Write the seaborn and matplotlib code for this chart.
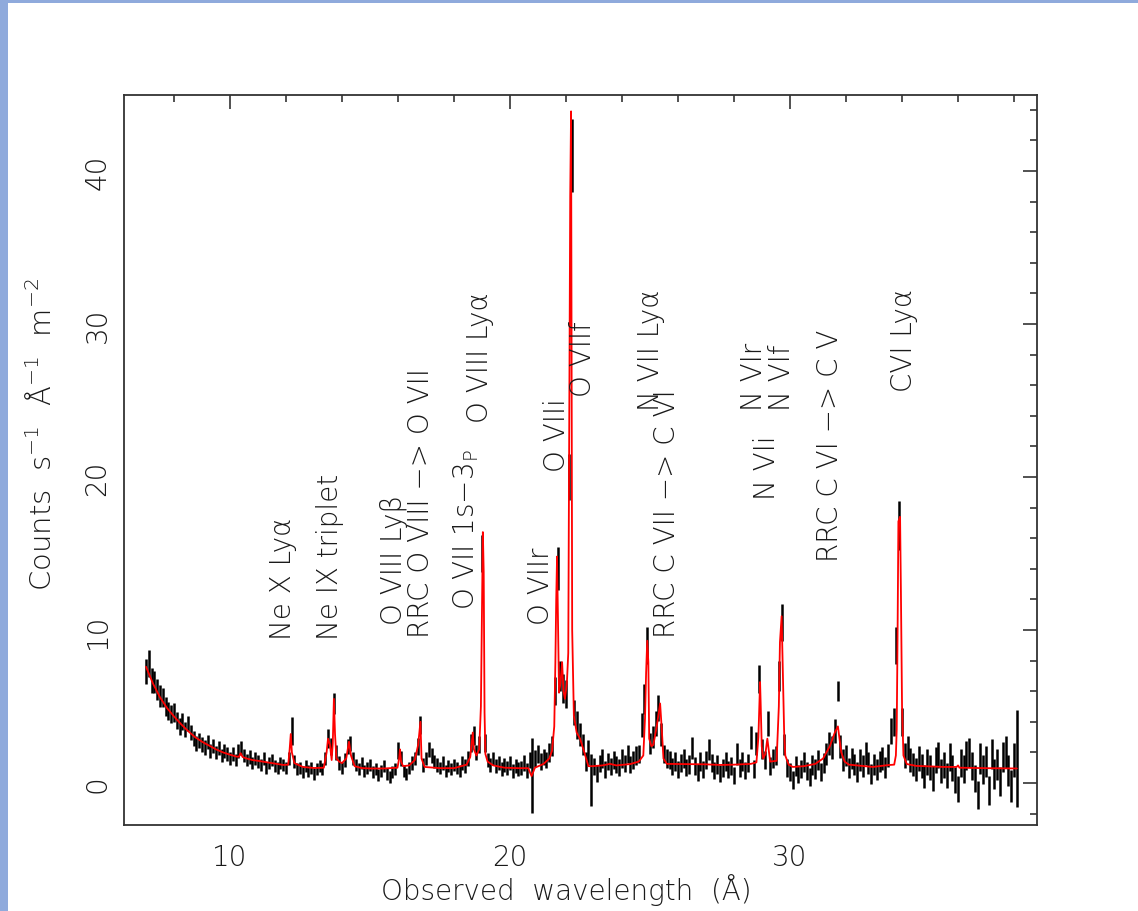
import numpy as np
import matplotlib
matplotlib.use("Agg")
import matplotlib.pyplot as plt
from matplotlib.patches import Rectangle
from matplotlib.ticker import MultipleLocator
import seaborn as sns

# ---------------- data ----------------
# observed spectrum, bins of 0.1 A starting at 7.0 A
flux = [
    7.3, 7.8, 6.7, 6.6, 6.1, 5.7, 5.6, 5.0, 4.7, 4.5,      # 7.x
    4.6, 4.1, 3.7, 4.0, 3.5, 3.9, 3.3, 2.9, 2.6, 2.8,      # 8.x
    2.5, 2.3, 2.7, 2.1, 2.4, 2.0, 2.3, 1.8, 2.1, 1.9,      # 9.x
    1.6, 1.9, 1.5, 2.1, 2.3, 1.8, 1.5, 1.7, 1.3, 1.6,      # 10.x
    1.4, 1.2, 1.6, 1.0, 1.3, 1.5, 1.1, 1.0, 1.3, 1.2,      # 11.x
    1.0, 1.6, 3.4, 1.4, 0.9, 1.0, 0.7, 1.1, 0.8, 1.0,      # 12.x
    0.6, 0.9, 1.1, 0.9, 1.6, 2.9, 2.4, 5.2, 2.0, 1.3,      # 13.x
    1.0, 1.5, 2.4, 2.6, 1.6, 1.2, 0.9, 1.3, 0.8, 1.0,      # 14.x
    1.2, 0.7, 0.9, 0.5, 0.8, 1.1, 0.6, 0.4, 0.7, 0.9,      # 15.x
    2.1, 1.6, 0.8, 0.6, 1.0, 1.3, 1.6, 2.4, 3.8, 1.2,      # 16.x
    1.6, 2.2, 1.8, 1.4, 1.2, 1.0, 1.3, 0.8, 1.1, 0.9,      # 17.x
    1.2, 1.0, 0.8, 1.3, 1.1, 1.6, 2.6, 3.1, 2.0, 2.5,      # 18.x
    15.0, 2.6, 1.5, 1.2, 1.6, 1.1, 1.3, 0.9, 1.2, 1.0,     # 19.x
    1.3, 0.8, 1.1, 0.9, 1.0, 1.3, 0.8, 1.5, 0.5, 1.6,      # 20.x
    1.9, 1.4, 1.7, 1.5, 2.0, 2.4, 6.0, 14.0, 7.0, 6.2,     # 21.x
    5.8, 20.0, 41.0, 4.6, 3.8, 3.2, 2.5, 1.4, 2.0, 0.2,    # 22.x
    1.1, 0.6, 1.3, 1.6, 0.9, 1.4, 1.1, 1.5, 1.2, 1.0,      # 23.x
    1.6, 1.3, 1.9, 1.2, 1.5, 1.8, 1.9, 3.8, 5.5, 9.0,      # 24.x
    2.6, 3.0, 3.9, 4.9, 3.2, 1.9, 1.6, 1.5, 1.1, 1.4,      # 25.x
    0.9, 1.3, 1.6, 1.0, 1.2, 2.3, 1.1, 0.7, 1.4, 0.9,      # 26.x
    1.5, 2.2, 1.3, 0.8, 1.2, 0.6, 1.0, 1.4, 0.9, 1.1,      # 27.x
    0.5, 1.9, 1.0, 1.4, 0.8, 1.3, 3.0, 0.9, 2.6, 6.8,      # 28.x
    2.2, 1.5, 3.9, 1.1, 1.6, 1.8, 7.0, 10.5, 2.5, 1.0,     # 29.x
    0.7, 0.2, 1.1, 0.6, 0.9, 1.4, 0.8, 0.4, 1.2, 0.9,      # 30.x
    1.5, 0.7, 1.3, 1.9, 2.6, 2.3, 3.4, 6.0, 2.4, 1.5,      # 31.x
    1.8, 1.0, 1.6, 1.2, 0.7, 1.5, 1.1, 1.9, 1.3, 0.6,      # 32.x
    1.2, 0.9, 1.4, 1.6, 1.0, 1.8, 3.4, 4.0, 9.0, 16.8,     # 33.x
    4.0, 1.8, 2.3, 1.5, 1.2, 0.9, 1.6, 1.1, 0.4, 1.4,      # 34.x
    1.0, 0.3, 1.5, 1.8, 0.8, 1.2, 0.5, 1.7, 1.0, 0.2,      # 35.x
    -0.4, 1.3, 0.9, 1.8, 2.0, 1.1, 0.3, -0.8, 1.6, 0.9,    # 36.x
    1.4, -0.5, 1.9, 0.6, 1.2, 0.1, 1.7, 2.0, 0.8, -0.2,    # 37.x
    1.5, 1.6,                                              # 38.0, 38.1
]
flux_err = [
    0.8, 0.9, 0.8, 0.7, 0.7, 0.7, 0.6, 0.6, 0.6, 0.6,
    0.6, 0.55, 0.55, 0.55, 0.5, 0.5, 0.5, 0.5, 0.5, 0.5,
    0.5, 0.5, 0.45, 0.45, 0.45, 0.45, 0.45, 0.45, 0.45, 0.45,
    0.45, 0.45, 0.4, 0.45, 0.45, 0.4, 0.4, 0.45, 0.4, 0.4,
    0.4, 0.4, 0.4, 0.4, 0.4, 0.4, 0.4, 0.4, 0.4, 0.4,
    0.4, 0.45, 0.9, 0.45, 0.4, 0.4, 0.4, 0.4, 0.4, 0.4,
    0.4, 0.4, 0.4, 0.4, 0.45, 0.6, 0.55, 0.7, 0.5, 0.45,
    0.4, 0.45, 0.5, 0.5, 0.45, 0.4, 0.4, 0.4, 0.4, 0.4,
    0.4, 0.4, 0.4, 0.4, 0.4, 0.4, 0.4, 0.4, 0.4, 0.4,
    0.55, 0.5, 0.4, 0.4, 0.4, 0.45, 0.45, 0.55, 0.6, 0.45,
    0.45, 0.5, 0.5, 0.45, 0.45, 0.4, 0.45, 0.4, 0.4, 0.4,
    0.4, 0.4, 0.4, 0.45, 0.45, 0.5, 0.6, 0.6, 0.5, 0.55,
    1.2, 0.6, 0.45, 0.45, 0.45, 0.45, 0.45, 0.45, 0.45, 0.45,
    0.45, 0.45, 0.45, 0.45, 0.45, 0.5, 0.5, 0.55, 2.45, 0.55,
    0.6, 0.55, 0.55, 0.55, 0.6, 0.65, 0.9, 1.4, 1.0, 0.95,
    0.9, 1.5, 2.4, 0.8, 0.9, 0.75, 0.7, 0.6, 0.8, 1.7,
    0.55, 0.55, 0.55, 0.6, 0.55, 0.55, 0.55, 0.6, 0.55, 0.55,
    0.6, 0.55, 0.6, 0.55, 0.6, 0.6, 0.6, 0.8, 1.0, 1.2,
    0.7, 0.7, 0.8, 0.85, 0.75, 0.6, 0.6, 0.6, 0.55, 0.6,
    0.55, 0.6, 0.6, 0.55, 0.6, 0.7, 0.6, 0.55, 0.6, 0.55,
    0.6, 0.7, 0.6, 0.55, 0.6, 0.55, 0.6, 0.6, 0.55, 0.6,
    0.55, 0.7, 0.6, 0.6, 0.55, 0.6, 0.75, 0.6, 0.75, 0.9,
    0.65, 0.6, 0.8, 0.6, 0.6, 0.65, 1.0, 1.2, 0.7, 0.6,
    0.6, 0.6, 0.65, 0.6, 0.6, 0.65, 0.6, 0.6, 0.65, 0.65,
    0.65, 0.6, 0.65, 0.7, 0.75, 0.75, 0.8, 0.65, 0.75, 0.7,
    0.7, 0.65, 0.7, 0.7, 0.65, 0.7, 0.7, 0.75, 0.7, 0.65,
    0.7, 0.7, 0.7, 0.75, 0.7, 0.75, 0.85, 0.9, 1.2, 1.6,
    0.9, 0.8, 0.8, 0.8, 0.75, 0.75, 0.8, 0.8, 0.75, 0.85,
    0.8, 0.8, 0.85, 0.85, 0.8, 0.85, 0.8, 0.9, 0.85, 0.85,
    0.85, 0.9, 0.9, 0.95, 0.95, 0.9, 0.9, 0.9, 1.0, 0.95,
    1.0, 0.95, 1.0, 1.0, 1.0, 0.95, 1.0, 1.05, 1.0, 1.05,
    1.1, 3.2,
]
wave = np.round(7.0 + 0.1 * np.arange(len(flux)), 2)

model_wave = [
    7.0, 7.25, 7.5, 7.75, 8.0, 8.25, 8.5, 8.75, 9.0, 9.25, 9.5, 9.75, 10.0,
    10.25, 10.32, 10.38, 10.45, 10.6, 10.8, 11.0, 11.5, 11.9, 12.08, 12.13,
    12.17, 12.21, 12.3, 12.6, 13.0, 13.35, 13.45, 13.5, 13.57, 13.63, 13.67,
    13.71, 13.75, 13.8, 13.9, 14.0, 14.15, 14.25, 14.32, 14.45, 14.7, 15.0,
    15.5, 15.98, 16.04, 16.07, 16.11, 16.18, 16.4, 16.6, 16.72, 16.8, 16.84,
    16.95, 17.5, 18.0, 18.45, 18.58, 18.63, 18.67, 18.71, 18.8, 18.9, 18.96,
    19.0, 19.03, 19.06, 19.09, 19.12, 19.2, 19.4, 19.8, 20.3, 20.65, 20.77,
    20.89, 21.2, 21.4, 21.5, 21.58, 21.62, 21.65, 21.68, 21.71, 21.75, 21.8,
    21.86, 21.91, 21.96, 22.03, 22.08, 22.12, 22.15, 22.18, 22.22, 22.28,
    22.38, 22.5, 22.62, 22.8, 22.95, 23.3, 23.57, 23.8, 24.3, 24.6, 24.76,
    24.82, 24.86, 24.9, 24.94, 24.97, 25.05, 25.12, 25.24, 25.36, 25.42,
    25.48, 25.6, 26.0, 27.0, 27.5, 28.0, 28.6, 28.8, 28.87, 28.9, 28.93,
    28.95, 28.99, 29.04, 29.12, 29.19, 29.29, 29.52, 29.6, 29.64, 29.7,
    29.74, 29.79, 29.83, 29.95, 30.1, 30.5, 30.9, 31.18, 31.42, 31.6, 31.71,
    31.83, 31.95, 32.1, 32.96, 33.5, 33.72, 33.78, 33.81, 33.84, 33.87,
    33.93, 33.96, 34.0, 34.05, 34.17, 34.5, 35.5, 35.95, 36.0, 36.05, 37.0,
    38.1,
]
model_flux = [
    7.6, 6.5, 5.6, 4.9, 4.35, 3.85, 3.4, 3.0, 2.7, 2.45, 2.2, 2.0, 1.85,
    1.72, 1.72, 1.95, 1.7, 1.6, 1.5, 1.45, 1.3, 1.18, 1.2, 2.2,
    3.2, 2.0, 1.3, 1.05, 0.98, 1.0, 2.0, 2.9, 2.5, 1.5, 2.6,
    5.5, 3.2, 1.6, 1.4, 1.3, 1.6, 2.7, 1.8, 1.1, 0.98, 0.95,
    0.95, 1.0, 1.6, 2.2, 1.4, 1.1, 1.15, 1.5, 2.5, 4.0, 1.6,
    1.05, 0.97, 0.97, 1.2, 1.7, 2.6, 3.3, 2.2, 1.8, 2.2, 5.0,
    11.8, 16.4, 13.8, 4.6, 1.9, 1.4, 1.15, 1.0, 0.97, 0.97, 0.45,
    1.0, 1.25, 1.6, 2.1, 3.7, 7.9, 12.0, 14.8, 11.0, 5.9, 6.5,
    7.9, 6.0, 5.5, 6.5, 8.5, 25.0, 38.4, 43.9, 10.0, 4.4,
    3.3, 2.9, 2.2, 1.1, 1.1, 1.15, 1.25, 1.15, 1.24, 1.4, 1.8,
    4.2, 7.2, 9.3, 7.9, 2.9, 2.4, 2.5, 3.7, 5.2, 3.5,
    1.6, 1.25, 1.24, 1.22, 1.18, 1.2, 1.25, 1.35, 3.0, 4.8, 6.6,
    5.3, 2.4, 1.6, 1.9, 2.9, 1.4, 1.45, 5.0, 9.2, 10.9,
    7.4, 3.3, 1.8, 1.2, 1.05, 1.1, 1.25, 1.6, 2.4, 3.3, 3.7,
    2.0, 1.4, 1.2, 1.05, 1.17, 1.2, 1.8, 3.5, 9.6, 17.1,
    17.4, 12.5, 5.0, 1.8, 1.24, 1.12, 1.05, 1.05, 1.15, 1.0, 0.97,
    0.95,
]

# line identifications: (label, wavelength of label, lower end of label)
line_labels = [
    "Ne X Lyα", "Ne IX triplet", "O VIII Lyβ",
    "RRC O VIII −> O VII", r"O VII 1s−3$_{\mathrm{P}}$", "O VIII Lyα",
    "O VIIr", "O VIIi", "O VIIf", "RRC C VII −> C VI", "N VII Lyα",
    "N VIi", "N VIr", "N VIf", "RRC C VI −> C V", "CVI Lyα",
]
label_wave = [11.89, 13.57, 15.86, 16.82, 18.43, 18.93, 21.11, 21.68, 22.61,
              25.60, 25.04, 29.18, 28.71, 29.73, 31.43, 34.07]
label_base = [9.41, 9.41, 10.39, 9.54, 11.37, 23.6, 10.39, 20.4, 25.3,
              9.54, 24.4, 18.56, 24.4, 24.4, 14.5, 25.6]

x_ticks = [10, 20, 30]
y_ticks = [0, 10, 20, 30, 40]

# ---------------- figure ----------------
sns.set_theme(style="white")
plt.rcParams["font.family"] = ["DejaVu Sans"]
plt.rcParams["font.weight"] = "light"
plt.rcParams["mathtext.fontset"] = "custom"
plt.rcParams["mathtext.rm"] = "DejaVu Sans:weight=light"
plt.rcParams["mathtext.it"] = "DejaVu Sans:style=oblique:weight=light"
plt.rcParams["mathtext.bf"] = "DejaVu Sans:weight=bold"

W, H = 1138, 912
fig = plt.figure(figsize=(W / 100, H / 100), dpi=100)
fig.patch.set_facecolor("white")
ax = fig.add_axes([124 / W, (H - 826) / H, (1037 - 124) / W, (826 - 96) / H])

frame_col = "#8FAADC"
fig.patches.append(Rectangle((0, 0), 8 / W, 1, transform=fig.transFigure,
                             facecolor=frame_col, edgecolor="none", zorder=5))
fig.patches.append(Rectangle((0, 1 - 4 / H), 1, 4 / H, transform=fig.transFigure,
                             facecolor=frame_col, edgecolor="none", zorder=5))

ax.errorbar(wave, flux, yerr=flux_err, fmt="none", ecolor="black",
            elinewidth=1.8, capsize=0, zorder=2)
sns.lineplot(x=model_wave, y=model_flux, color="red", linewidth=1.3,
             estimator=None, sort=False, ax=ax, zorder=3)

txt_col = "#1a1a1a"
for s, lx, ly in zip(line_labels, label_wave, label_base):
    ax.text(lx, ly, s, rotation=90, ha="center", va="bottom", fontsize=20,
            color=txt_col, fontweight="light", zorder=4)

ax.set_xlim(6.214, 38.82)
ax.set_ylim(-2.745, 44.97)
ax.set_xticks(x_ticks)
ax.set_yticks(y_ticks)
ax.xaxis.set_minor_locator(MultipleLocator(2))
ax.yaxis.set_minor_locator(MultipleLocator(2))

spine_col = "#333333"
for sp in ax.spines.values():
    sp.set_color(spine_col)
    sp.set_linewidth(1.3)
ax.tick_params(which="both", direction="in", top=True, right=True,
               color=spine_col, width=1.2, labelsize=20, labelcolor=txt_col)
ax.tick_params(which="major", length=10)
ax.tick_params(which="minor", length=5)
ax.tick_params(axis="x", pad=13)
ax.tick_params(axis="y", pad=9, labelrotation=90)
for lab in ax.get_yticklabels():
    lab.set_va("center")

ax.set_xlabel("")
ax.set_ylabel("")
fig.text(566 / W, 1 - 890 / H, "Observed  wavelength  (Å)", ha="center",
         va="center", fontsize=20, color=txt_col)
fig.text(42 / W, 1 - 434 / H, r"Counts  s$^{-1}$  Å$^{-1}$  m$^{-2}$",
         rotation=90, ha="center", va="center", fontsize=21, color=txt_col)

fig.savefig("out.png", dpi=100)
